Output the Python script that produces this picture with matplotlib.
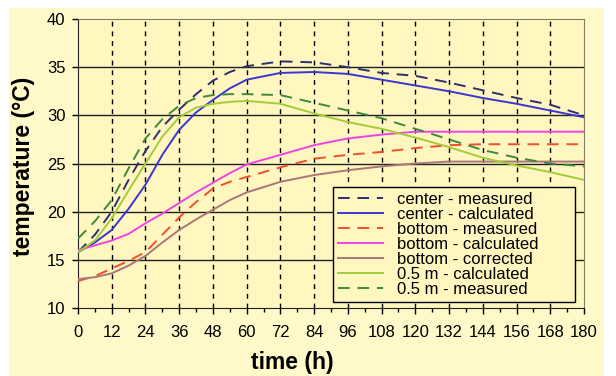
import matplotlib
matplotlib.use("Agg")
import matplotlib.pyplot as plt
from matplotlib.patches import Rectangle

plt.rcParams['font.family'] = ['Liberation Sans', 'DejaVu Sans']

# time axis (hours)
hours = [0, 6, 12, 18, 24, 30, 36, 42, 48, 54, 60, 72, 84, 96, 108, 120, 132, 144, 156, 168, 180]

center_measured = [15.8, 17.6, 20.0, 23.3, 26.3, 28.8, 30.6, 32.2, 33.6, 34.5, 35.1, 35.6, 35.5, 35.0, 34.4, 34.1, 33.4, 32.6, 31.8, 31.1, 30.0]
center_calculated = [15.8, 16.8, 18.1, 20.3, 22.8, 25.9, 28.5, 30.3, 31.6, 32.8, 33.7, 34.4, 34.5, 34.3, 33.7, 33.1, 32.5, 31.8, 31.2, 30.5, 29.8]
bottom_measured = [12.8, 13.3, 14.1, 14.9, 15.8, 17.6, 19.4, 21.0, 22.4, 23.1, 23.6, 24.6, 25.5, 25.9, 26.2, 26.6, 26.9, 27.0, 27.0, 27.0, 27.0]
bottom_calculated = [16.0, 16.5, 17.0, 17.7, 18.8, 19.8, 20.9, 22.0, 23.0, 24.0, 24.9, 25.9, 26.9, 27.6, 28.0, 28.3, 28.3, 28.3, 28.3, 28.3, 28.3]
bottom_corrected = [13.0, 13.2, 13.6, 14.4, 15.4, 16.8, 18.1, 19.2, 20.2, 21.2, 22.0, 23.1, 23.8, 24.3, 24.7, 25.0, 25.2, 25.2, 25.2, 25.2, 25.2]
half_m_calculated = [15.8, 17.0, 19.3, 22.2, 25.0, 27.8, 29.8, 30.8, 31.2, 31.4, 31.5, 31.2, 30.2, 29.3, 28.6, 27.7, 26.7, 25.6, 24.8, 24.1, 23.3]
half_m_measured = [17.2, 19.0, 21.2, 24.5, 27.6, 29.6, 31.0, 31.8, 32.1, 32.2, 32.2, 32.1, 31.3, 30.5, 29.7, 28.6, 27.5, 26.4, 25.6, 25.0, 24.7]

x_ticks = list(range(0, 181, 12))
y_ticks = [10, 15, 20, 25, 30, 35, 40]

W, H = 616, 376
fig = plt.figure(figsize=(W / 100, H / 100), dpi=100)
fig.patch.set_facecolor('white')
panel = Rectangle((9 / W, 0), (604 - 9) / W, (H - 8) / H,
                  transform=fig.transFigure, facecolor='#FFF8C8',
                  edgecolor='none', zorder=-10)
fig.add_artist(panel)

ax = fig.add_axes([78 / W, 1 - 308 / H, (584 - 78) / W, (308 - 19) / H])
ax.set_zorder(1)
ax.set_facecolor('#FFF6C0')

dash = (0, (6, 4))
series = [
    (center_measured, 'center - measured', '#2E2E70', dash),
    (center_calculated, 'center - calculated', '#3838D0', '-'),
    (bottom_measured, 'bottom - measured', '#F0502A', dash),
    (bottom_calculated, 'bottom - calculated', '#EE44E6', '-'),
    (bottom_corrected, 'bottom - corrected', '#A87878', '-'),
    (half_m_calculated, '0.5 m - calculated', '#A2CC3A', '-'),
    (half_m_measured, '0.5 m - measured', '#3C8A3C', dash),
]
for vals, label, color, ls in series:
    ax.plot(hours, vals, color=color, linestyle=ls, linewidth=1.4, label=label, zorder=3)

ax.set_xlim(0, 180)
ax.set_ylim(10, 40)
ax.set_xticks(x_ticks)
ax.set_xticks(range(6, 180, 12), minor=True)
ax.set_yticks(y_ticks)
ax.tick_params(axis='both', labelsize=12, length=4, width=1, color='black', direction='out')
ax.tick_params(axis='x', pad=8)
ax.tick_params(axis='y', pad=5)
ax.tick_params(axis='x', which='minor', length=3, width=1, color='black')

for yv in y_ticks[1:-1]:
    ax.axhline(yv, color='#202020', linewidth=1.0, zorder=1)
for xv in x_ticks[1:-1]:
    ax.axvline(xv, color='black', linewidth=1.0, linestyle=(0, (3.5, 3.5)), zorder=1)

ax.spines['left'].set_color('#202020')
ax.spines['bottom'].set_color('#202020')
ax.spines['top'].set_color('#808060')
ax.spines['right'].set_color('#808060')

# axis titles
fig.text(292 / W, 1 - 351 / H, 'time (h)', fontsize=16.5, fontweight='bold',
         ha='center', va='top')
fig.text(24 / W, 1 - 166 / H, 'temperature (°C)', fontsize=16.5, fontweight='bold',
         ha='center', va='center', rotation=90)

x0 = (333 - 78) / 506
y1 = 1 - (187 - 19) / 289
leg = ax.legend(loc='upper left', bbox_to_anchor=(x0, y1 - 0.5, (575 - 333) / 506, 0.5),
                mode='expand', fontsize=12, frameon=True, fancybox=False, framealpha=1,
                facecolor='#FFF6C0', edgecolor='black', borderpad=0.3,
                labelspacing=0.0, handlelength=2.7, handletextpad=0.85, borderaxespad=0)
leg.get_frame().set_linewidth(1.0)
leg.set_zorder(5)

fig.savefig('out.png', dpi=100)
